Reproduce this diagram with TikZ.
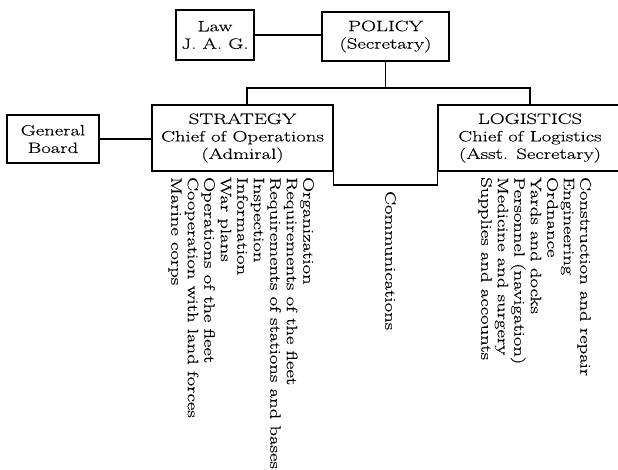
\documentclass[tikz,border=0pt]{standalone}
\usepackage{fontspec}
\setmainfont{Latin Modern Roman}[FakeStretch=1.38, FakeBold=0.3]
\begin{document}
\begin{tikzpicture}[x=1pt,y=-1pt,
  box/.style={draw, line width=1.4pt, align=center, inner sep=0pt,
    font=\fontsize{15}{17.5}\selectfont},
  conn/.style={line width=1.4pt},
  listtext/.style={rotate=-90, align=left, inner sep=0pt,
    font=\fontsize{15}{16.5}\selectfont}]
\useasboundingbox (0,0) rectangle (618,469);
\clip (0,0) rectangle (618,469);
\node[box, minimum width=78pt, minimum height=50pt] (law) at (215,35) {Law\\J. A. G.};
\node[box, minimum width=127pt, minimum height=49pt] (policy) at (385.5,36.5) {POLICY\\(Secretary)};
\node[box, minimum width=92pt, minimum height=48pt] (gb) at (53,139) {General\\Board};
\node[box, minimum width=181pt, minimum height=66pt] (strategy) at (242.5,138) {STRATEGY\\Chief of Operations\\(Admiral)};
\node[box, minimum width=184pt, minimum height=66pt] (logistics) at (530,138) {LOGISTICS\\Chief of Logistics\\(Asst. Secretary)};
\coordinate (busL) at (247,88);
\coordinate (busR) at (530,88);
\coordinate (comm) at (385,185);
\draw[conn] (law.east) -- (law.east -| policy.west);
\draw[conn] (policy.south) -- (policy.south |- busL);
\draw[conn] (strategy.north -| busL) -- (busL) -- (busR) -- (logistics.north -| busR);
\draw[conn] (gb.east) -- (gb.east -| strategy.west);
\draw[conn] (strategy.south east) -- (strategy.south east |- comm) -- (logistics.south west |- comm) -- (logistics.south west);
\node[listtext, anchor=north west] (slist) at (314,177) {Organization\\Requirements of the fleet\\Requirements of stations and bases\\Inspection\\Information\\War plans\\Operations of the fleet\\Cooperation with land forces\\Marine corps};
\node[listtext, anchor=north west] (llist) at (591,177) {Construction and repair\\Engineering\\Ordnance\\Yards and docks\\Personnel (navigation)\\Medicine and surgery\\Supplies and accounts};
\node[listtext, anchor=north west] (clist) at (396,191) {Communications};
\end{tikzpicture}
\end{document}
